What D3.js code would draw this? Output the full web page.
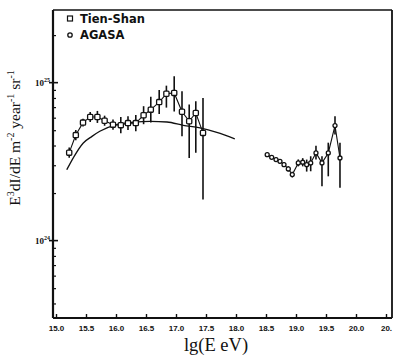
<!DOCTYPE html>
<html>
<head>
<meta charset="utf-8">
<script src="https://cdn.jsdelivr.net/npm/d3@7"></script>
<style>
  html, body { margin: 0; padding: 0; background: #fff; }
  svg { display: block; }
</style>
</head>
<body>
<svg id="chart" width="400" height="362"></svg>
<script>
// ---- Data (values in log10 of E^3 dI/dE) ----
const tienShanLgE = [15.22, 15.33, 15.45, 15.57, 15.69, 15.81, 15.95, 16.08, 16.20, 16.33, 16.46, 16.58, 16.72, 16.84, 16.97, 17.10, 17.22, 17.33, 17.45];
const tienShanVal = [24.557, 24.668, 24.747, 24.783, 24.783, 24.759, 24.734, 24.731, 24.744, 24.744, 24.794, 24.829, 24.877, 24.930, 24.935, 24.816, 24.756, 24.808, 24.682];
const tienShanLo  = [24.525, 24.636, 24.722, 24.751, 24.745, 24.727, 24.702, 24.680, 24.700, 24.693, 24.737, 24.747, 24.801, 24.842, 24.818, 24.660, 24.523, 24.557, 24.260];
const tienShanHi  = [24.589, 24.700, 24.772, 24.815, 24.821, 24.791, 24.766, 24.782, 24.788, 24.795, 24.851, 24.911, 24.953, 24.981, 25.040, 24.945, 24.861, 24.882, 24.903];

const agasaLgE = [18.52, 18.595, 18.667, 18.733, 18.80, 18.872, 18.938, 19.038, 19.112, 19.178, 19.245, 19.333, 19.433, 19.538, 19.65, 19.733];
const agasaVal = [24.544, 24.527, 24.513, 24.502, 24.481, 24.454, 24.418, 24.492, 24.496, 24.481, 24.492, 24.555, 24.492, 24.555, 24.728, 24.523];
const agasaLo  = [24.532, 24.515, 24.500, 24.489, 24.466, 24.437, 24.400, 24.470, 24.470, 24.437, 24.439, 24.513, 24.344, 24.407, 24.671, 24.335];
const agasaHi  = [24.556, 24.539, 24.526, 24.515, 24.496, 24.471, 24.436, 24.514, 24.522, 24.513, 24.534, 24.601, 24.534, 24.620, 24.787, 24.620];

const modelLgE = [15.18, 15.30, 15.455, 15.60, 15.73, 16.01, 16.30, 16.57, 16.85, 17.12, 17.40, 17.68, 17.98];
const modelVal = [24.449, 24.532, 24.618, 24.660, 24.692, 24.734, 24.750, 24.755, 24.751, 24.730, 24.713, 24.685, 24.644];

const xTicks = [15.0, 15.5, 16.0, 16.5, 17.0, 17.5, 18.0, 18.5, 19.0, 19.5, 20.0, 20.5];
const xTickLabels = ["15.0", "15.5", "16.0", "16.5", "17.0", "17.5", "18.0", "18.5", "19.0", "19.5", "20.0", "20."];
const yMajorExp = [24, 25];
const legendNames = ["Tien-Shan", "AGASA"];

// ---- Layout ----
const svg = d3.select("#chart");
const L = 53, R = 392, T = 10, B = 318;
const x = d3.scaleLinear().domain([14.95, 20.6]).range([L, R]);
const y = d3.scaleLog().domain([Math.pow(10, 23.51), Math.pow(10, 25.46)]).range([B, T]);
const p = v => Math.pow(10, v);

// Frame
svg.append("line").attr("x1", L).attr("x2", R).attr("y1", T).attr("y2", T).attr("stroke", "#111").attr("stroke-width", 1.6);
svg.append("line").attr("x1", R).attr("x2", R).attr("y1", T).attr("y2", B).attr("stroke", "#111").attr("stroke-width", 1.8);

// Bottom axis
const xAxis = d3.axisBottom(x).tickValues(xTicks).tickSizeInner(-4).tickSizeOuter(0)
  .tickFormat((d, i) => xTickLabels[i]).tickPadding(7);
const gx = svg.append("g").attr("transform", `translate(0,${B})`).call(xAxis);
gx.select(".domain").attr("stroke", "#111").attr("stroke-width", 2.2).attr("d", `M${L},0H${R}`);
gx.selectAll(".tick line").attr("stroke", "#111").attr("stroke-width", 1.4);
gx.selectAll(".tick text").attr("font-family", "Liberation Sans, Arial, sans-serif")
  .attr("font-weight", "bold").attr("font-size", 8).attr("fill", "#111");

// Left axis (log) with minor ticks
const minorVals = [];
for (let e = 23; e <= 25; e++) {
  for (let m = 2; m <= 9; m++) {
    const v = m * Math.pow(10, e);
    if (v >= y.domain()[0] && v <= y.domain()[1]) minorVals.push(v);
  }
}
const gy = svg.append("g").attr("transform", `translate(${L},0)`);
gy.call(d3.axisLeft(y).tickValues(minorVals).tickSizeInner(-3).tickSizeOuter(0).tickFormat(""));
gy.select(".domain").attr("stroke", "#111").attr("stroke-width", 2.2).attr("d", `M0,${T}V${B}`);
gy.selectAll(".tick line").attr("stroke", "#111").attr("stroke-width", 1.2);
const gyM = svg.append("g").attr("transform", `translate(${L},0)`);
gyM.call(d3.axisLeft(y).tickValues(yMajorExp.map(p)).tickSize(0).tickFormat(""));
gyM.select(".domain").remove();
yMajorExp.forEach(e => {
  const yy = y(p(e));
  svg.append("line").attr("x1", L - 4).attr("x2", L + 5).attr("y1", yy).attr("y2", yy)
    .attr("stroke", "#111").attr("stroke-width", 1.6);
  const t = svg.append("text").attr("x", L - 3).attr("y", yy + 3).attr("text-anchor", "end")
    .attr("font-family", "Liberation Serif, Times New Roman, serif").attr("font-weight", "bold")
    .attr("font-size", 9).attr("fill", "#111");
  t.append("tspan").text("10");
  t.append("tspan").attr("font-size", 6).attr("dy", -4).text(String(e));
});

// Axis titles
const yt = svg.append("text").attr("transform", "translate(20,138) rotate(-90)")
  .attr("text-anchor", "middle").attr("font-family", "Liberation Serif, Times New Roman, serif")
  .attr("font-size", 15.5).attr("fill", "#111");
yt.append("tspan").text("E");
yt.append("tspan").attr("font-size", 10).attr("dy", -6).text("3");
yt.append("tspan").attr("dy", 6).text("dI/dE m");
yt.append("tspan").attr("font-size", 10).attr("dy", -6).text("-2");
yt.append("tspan").attr("dy", 6).text(" year");
yt.append("tspan").attr("font-size", 10).attr("dy", -6).text("-1");
yt.append("tspan").attr("dy", 6).text(" sr");
yt.append("tspan").attr("font-size", 10).attr("dy", -6).text("-1");

svg.append("text").attr("x", 216).attr("y", 351).attr("text-anchor", "middle")
  .attr("font-family", "Liberation Serif, Times New Roman, serif").attr("font-size", 18.5)
  .attr("fill", "#111").text("lg(E eV)");

// Model curve
const line = d3.line().x(d => x(d[0])).y(d => y(p(d[1]))).curve(d3.curveMonotoneX);
svg.append("path").datum(modelLgE.map((v, i) => [v, modelVal[i]]))
  .attr("d", line).attr("fill", "none").attr("stroke", "#111").attr("stroke-width", 1.3);

// Data series
function series(lg, val, lo, hi, marker) {
  const pts = lg.map((v, i) => [v, val[i]]);
  svg.append("path").datum(pts).attr("d", d3.line().x(d => x(d[0])).y(d => y(p(d[1]))))
    .attr("fill", "none").attr("stroke", "#111").attr("stroke-width", 1.1);
  svg.append("g").selectAll("line").data(lg).join("line")
    .attr("x1", d => x(d)).attr("x2", d => x(d))
    .attr("y1", (d, i) => y(p(lo[i]))).attr("y2", (d, i) => y(p(hi[i])))
    .attr("stroke", "#111").attr("stroke-width", 1.6);
  const g = svg.append("g");
  if (marker === "square") {
    g.selectAll("rect").data(pts).join("rect")
      .attr("x", d => x(d[0]) - 2.6).attr("y", d => y(p(d[1])) - 2.6)
      .attr("width", 5.2).attr("height", 5.2).attr("rx", 1)
      .attr("fill", "#fff").attr("stroke", "#111").attr("stroke-width", 1.3);
  } else {
    g.selectAll("circle").data(pts).join("circle")
      .attr("cx", d => x(d[0])).attr("cy", d => y(p(d[1]))).attr("r", 2)
      .attr("fill", "#fff").attr("stroke", "#111").attr("stroke-width", 1.3);
  }
}
series(tienShanLgE, tienShanVal, tienShanLo, tienShanHi, "square");
series(agasaLgE, agasaVal, agasaLo, agasaHi, "circle");

// Legend
const lg = svg.append("g");
lg.append("rect").attr("x", 67.5).attr("y", 16).attr("width", 5).attr("height", 5)
  .attr("fill", "#fff").attr("stroke", "#111").attr("stroke-width", 1.2);
lg.append("circle").attr("cx", 70).attr("cy", 35).attr("r", 2.2)
  .attr("fill", "#fff").attr("stroke", "#111").attr("stroke-width", 1.3);
legendNames.forEach((n, i) => {
  lg.append("text").attr("x", 80).attr("y", 23 + i * 15.5)
    .attr("font-family", "DejaVu Sans, sans-serif").attr("font-weight", "bold")
    .attr("font-size", 11.5).attr("fill", "#111").text(n);
});
</script>
</body>
</html>
